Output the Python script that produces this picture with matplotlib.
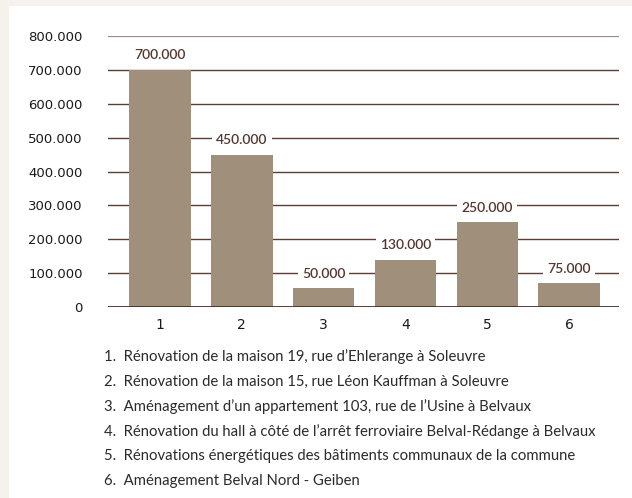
import matplotlib
matplotlib.use("Agg")
import matplotlib.pyplot as plt
from matplotlib.patches import Rectangle

# ---- data ----
categories = ["1", "2", "3", "4", "5", "6"]
bar_values = [700000, 450000, 55000, 140000, 250000, 70000]
value_labels = ["700.000", "450.000", "50.000", "130.000", "250.000", "75.000"]
y_ticks = [0, 100000, 200000, 300000, 400000, 500000, 600000, 700000, 800000]
y_tick_labels = ["0", "100.000", "200.000", "300.000", "400.000",
                 "500.000", "600.000", "700.000", "800.000"]
legend_items = [
    "1.  Rénovation de la maison 19, rue d’Ehlerange à Soleuvre",
    "2.  Rénovation de la maison 15, rue Léon Kauffman à Soleuvre",
    "3.  Aménagement d’un appartement 103, rue de l’Usine à Belvaux",
    "4.  Rénovation du hall à côté de l’arrêt ferroviaire Belval-Rédange à Belvaux",
    "5.  Rénovations énergétiques des bâtiments communaux de la commune",
    "6.  Aménagement Belval Nord - Geiben",
]

W, H = 632, 498
fig = plt.figure(figsize=(W / 100, H / 100), dpi=100)
fig.patch.set_facecolor("#f5f2ed")
# white panel
fig.patches.append(Rectangle((8.5 / W, 0), 1, 1 - 6 / H, transform=fig.transFigure,
                             facecolor="white", edgecolor="none", zorder=-5))

ax = fig.add_axes([108.3 / W, (H - 307) / H, (619 - 108.3) / W, (307 - 36) / H])
ax.set_facecolor("none")
ax.set_zorder(2)
x = list(range(len(categories)))

grid_col = "#5b3d35"
for t in y_ticks[1:-1]:
    ax.axhline(t, color=grid_col, lw=1.0, zorder=1)
ax.axhline(y_ticks[-1], color="#9a8883", lw=1.6, zorder=1)
ax.axhline(0, color="#4a2a22", lw=2.0, zorder=4)

ax.bar(x, bar_values, width=0.753, color="#a08f7a", zorder=3)

for xi, v, lab in zip(x, bar_values, value_labels):
    ax.annotate(lab, (xi, v), xytext=(0, 10.5), textcoords="offset points",
                ha="center", va="center", fontsize=10, family="Lato",
                fontweight="semibold", color="#553630", zorder=5,
                bbox=dict(boxstyle="square,pad=0.3", facecolor="white", edgecolor="none"))

ax.set_xlim(-0.629, 5.608)
ax.set_ylim(0, 800000)
ax.set_xticks(x)
ax.set_xticklabels(categories)
ax.set_yticks(y_ticks)
ax.set_yticklabels(y_tick_labels)
ax.tick_params(axis="both", length=0, labelsize=9.5, labelcolor="#1a1a1a")
ax.tick_params(axis="x", labelsize=10)
ax.tick_params(axis="y", pad=18.5)
ax.tick_params(axis="x", pad=8)
for s in ax.spines.values():
    s.set_visible(False)

y0 = 357
for i, item in enumerate(legend_items):
    fig.text(104 / W, 1 - (y0 + i * 24.8) / H, item, ha="left", va="center",
             fontsize=10.75, family="Lato", color="#2a2a2a")

fig.savefig("out.png", dpi=100, facecolor=fig.get_facecolor())
